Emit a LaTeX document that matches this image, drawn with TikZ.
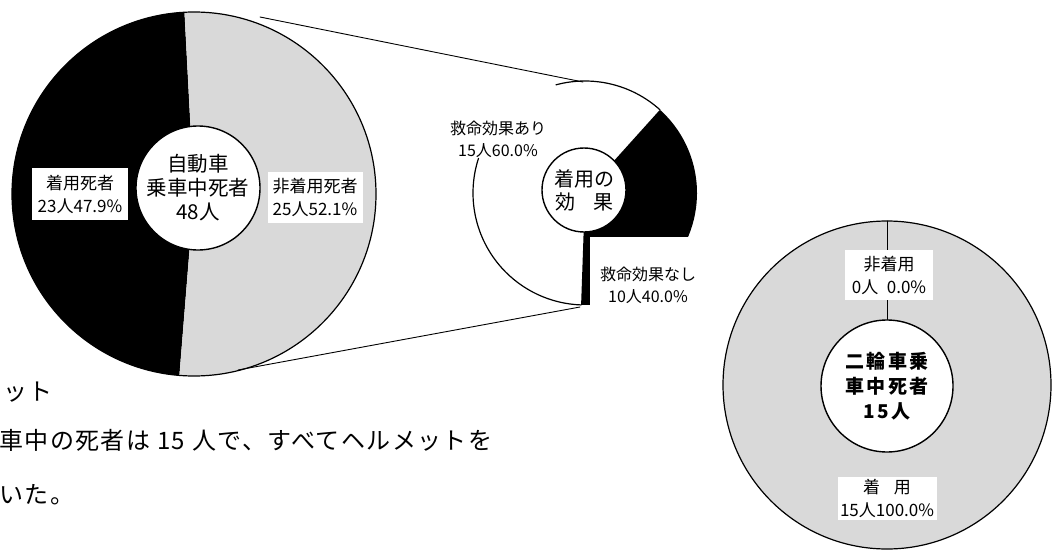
\documentclass[tikz,border=0pt]{standalone}
\usepackage{fontspec}
\setmainfont{Noto Sans CJK JP}
\begin{document}
\begin{tikzpicture}[x=1pt, y=1pt, line join=round, line cap=round]
				\def\carcircle{(194,356) circle (182)}
				\def\motocircle{(887,165) circle (164)}
				\colorlet{pie gray}{black!15}
				\tikzset{hub/.style={circle, fill=white, draw=black, line width=1.4pt, inner sep=0pt, align=center},
					tag/.style={fill=white, inner sep=0pt, align=center},
					plain/.style={inner sep=0pt, align=center}}
				\useasboundingbox (0,0) rectangle (1059,550);
				% car occupants
				\fill[black] (194,356) -- ++(93:182) arc[start angle=93, end angle=265.4, radius=182] -- cycle;
				\fill[pie gray] (194,356) -- ++(265.4:182) arc[start angle=265.4, end angle=453, radius=182] -- cycle;
				\draw[line width=1.2pt] \carcircle;
				\node[hub, minimum size=124, font=\fontsize{20.5}{24}\selectfont] (car) at (198,362) {自動車\\乗車中死者\\48人};
				\node[tag, minimum width=96, minimum height=52, font=\fontsize{17}{23}\selectfont] (worn) at (80,356) {着用死者\\23人47.9\%};
				\node[tag, minimum width=95, minimum height=51, font=\fontsize{17}{23}\selectfont] (unworn) at (315,353) {非着用死者\\25人52.1\%};
				% zoom lines
				\coordinate (zt1) at (260,533);
				\coordinate (zt2) at (583,468);
				\coordinate (zb1) at (238,180);
				\coordinate (zb2) at (580,243);
				\draw[line width=0.9pt] (zt1) -- (zt2) (zb1) -- (zb2);
				% effect of belt
				\coordinate (eff) at (585,357);
				\fill[black] (eff) -- ++(-92:112) arc[start angle=-92, end angle=48, radius=112] -- cycle;
				\fill[white] (590,238) rectangle (712,313);
				\draw[line width=1.2pt] (eff) ++(48:112) arc[start angle=48, end angle=105, radius=112];
				\draw[line width=1.2pt] (eff) ++(162:112) arc[start angle=162, end angle=268, radius=112];
				\node[hub, minimum size=84, font=\fontsize{20}{23}\selectfont] (effect) at (584,360) {着用の\\効\hspace{0.9em}果};
				\node[plain, font=\fontsize{16}{22}\selectfont] (saved) at (498,411) {救命効果あり\\15人60.0\%};
				\node[plain, font=\fontsize{16}{22}\selectfont] (unsaved) at (648,265) {救命効果なし\\10人40.0\%};
				% two-wheel riders
				\fill[pie gray] \motocircle;
				\draw[line width=1.2pt] \motocircle;
				\node[hub, minimum size=132, font=\bfseries\fontsize{19}{25}\selectfont\addfontfeature{LetterSpace=12}] (moto) at (887,164) {二輪車乗\\車中死者\\15人};
				\coordinate (mtop) at (887,329);
				\draw[line width=1pt] (mtop) -- (moto.north);
				\node[tag, minimum width=88, minimum height=50, font=\fontsize{17}{23}\selectfont] (nohelm) at (889,275) {非着用\\0人\hspace{0.5em}0.0\%};
				\node[tag, minimum width=99, minimum height=43, font=\fontsize{17}{23}\selectfont] (helm) at (887,52) {着\hspace{0.8em}用\\15人100.0\%};
				% text below
				\node[plain, anchor=west, font=\fontsize{24}{28}\selectfont\addfontfeature{LetterSpace=6}] (p1) at (3,158) {ット};
				\node[plain, anchor=west, font=\fontsize{24}{28}\selectfont\addfontfeature{LetterSpace=6}] (p2) at (-1,110) {車中の死者は 15 人で、すべてヘルメットを};
				\node[plain, anchor=west, font=\fontsize{24}{28}\selectfont\addfontfeature{LetterSpace=6}] (p3) at (-1,55) {いた。};
		\end{tikzpicture}
\end{document}
